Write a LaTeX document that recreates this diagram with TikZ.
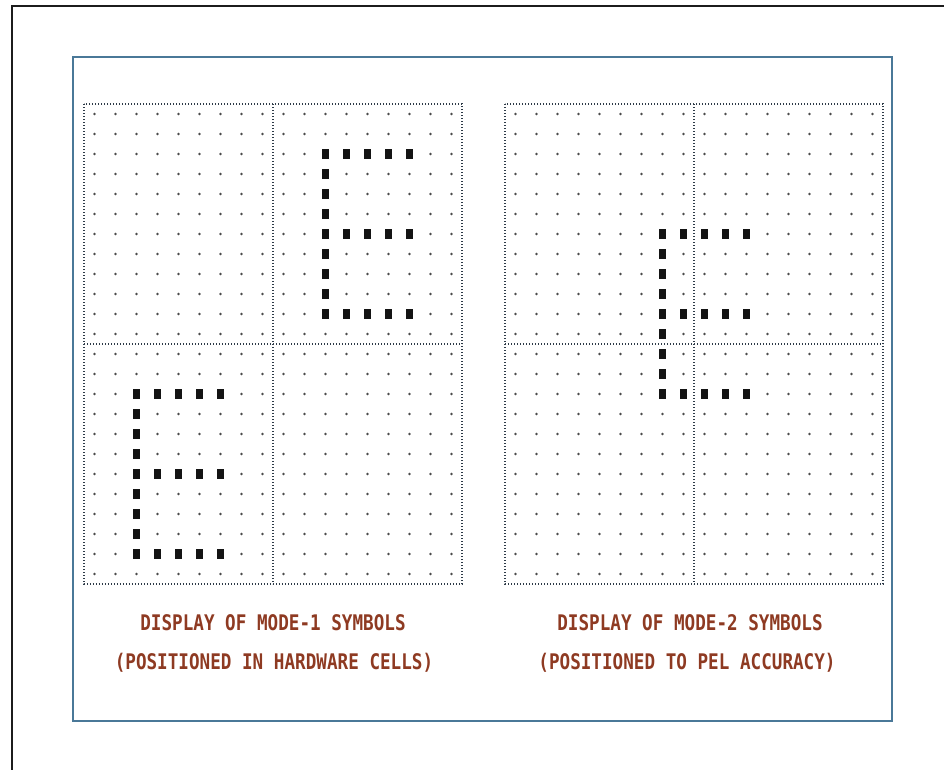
\documentclass[tikz,border=0pt]{standalone}
\usepackage{fontspec}
\newfontfamily\plotfont[FakeStretch=0.82]{DejaVu Sans Mono}
\usepackage{xcolor}
\definecolor{cFrame}{HTML}{1C1C1C}
\definecolor{cPanel}{HTML}{4A7898}
\definecolor{cRule}{HTML}{2E3B48}
\definecolor{cPel}{HTML}{4A4A4A}
\definecolor{cLit}{HTML}{141414}
\definecolor{cCap}{HTML}{8E3A22}
\usetikzlibrary{positioning}

% lit pels of one E, top left pel at column #1, row #2
\newcommand{\pelE}[2]{%
  \foreach \dc/\dr in {0/0,1/0,2/0,3/0,4/0,0/1,0/2,0/3,0/4,1/4,2/4,3/4,4/4,
      0/5,0/6,0/7,0/8,1/8,2/8,3/8,4/8}
    \fill[lit] ({21*(#1+\dc)+6.8},{20*(#2+\dr)+5.3}) rectangle +(7.4,9.4);}

% dotted pel grid of 2x2 cells, 9x12 pels each
\newcommand{\pelgrid}{%
  \foreach \c in {0,...,17}
    \foreach \r in {0,...,23}
      \fill[pel] ({21*\c+10.5},{20*\r+10}) circle (1.35);
  \draw[cellrule] (0,0) rectangle (378,480);
  \draw[cellrule] (189,0) -- (189,480);
  \draw[cellrule] (0,240) -- (378,240);}

\begin{document}
\begin{tikzpicture}[x=1pt,y=-1pt,
  frame/.style={draw=cFrame,line width=2.6pt},
  panel/.style={draw=cPanel,line width=1.5pt},
  cellrule/.style={draw=cRule,line width=1.6pt,dash pattern=on 1.3pt off 1.7pt},
  pel/.style={fill=cPel},
  lit/.style={fill=cLit},
  captext/.style={text=cCap,font=\plotfont\bfseries\fontsize{21.5}{24}\selectfont,
    inner sep=0pt,anchor=base}]
\clip (0,0) rectangle (944,769);
\draw[frame] (12,800) -- (12,6) -- (980,6);
\draw[panel] (73,57) rectangle (892,721);

% mode-1: symbols in hardware cells
\begin{scope}[shift={(84,104)}]
  \pelgrid
  \pelE{11}{2}
  \pelE{2}{14}
\end{scope}

% mode-2: symbols to pel accuracy
\begin{scope}[shift={(505,104)}]
  \pelgrid
  \pelE{7}{6}
\end{scope}

\node[captext] (cap1a) at (273,630) {DISPLAY OF MODE-1 SYMBOLS};
\node[captext] (cap1b) at (274,669) {(POSITIONED IN HARDWARE CELLS)};
\node[captext] (cap2a) at (690,630) {DISPLAY OF MODE-2 SYMBOLS};
\node[captext] (cap2b) at (687,669) {(POSITIONED TO PEL ACCURACY)};
\end{tikzpicture}
\end{document}
